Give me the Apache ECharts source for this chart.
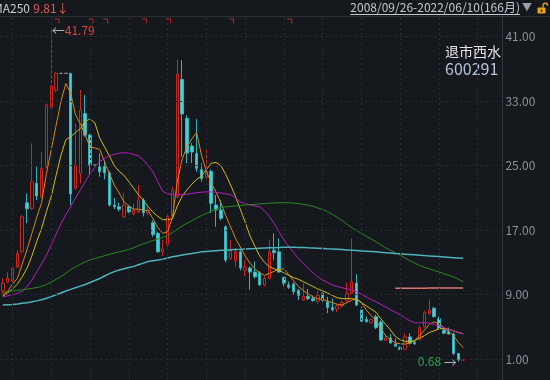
<!DOCTYPE html>
<html><head><meta charset="utf-8">
<script src="https://cdn.jsdelivr.net/npm/echarts@6/dist/echarts.min.js"></script>
<style>html,body{margin:0;padding:0;background:#15181d;}#c{width:550px;height:380px;}</style>
</head><body><div id="c"></div>
<script>
// ---- data (monthly candles, visible window) ----
const months = [
'2014/07','2014/08','2014/09','2014/10','2014/11','2014/12',
'2015/01','2015/02','2015/03','2015/04','2015/05','2015/06','2015/07','2015/08','2015/09','2015/10','2015/11','2015/12',
'2016/01','2016/02','2016/03','2016/04','2016/05','2016/06','2016/07','2016/08','2016/09','2016/10','2016/11','2016/12',
'2017/01','2017/02','2017/03','2017/04','2017/05','2017/06','2017/07','2017/08','2017/09','2017/10','2017/11','2017/12',
'2018/01','2018/02','2018/03','2018/04','2018/05','2018/06','2018/07','2018/08','2018/09','2018/10','2018/11','2018/12',
'2019/01','2019/02','2019/03','2019/04','2019/05','2019/06','2019/07','2019/08','2019/09','2019/10','2019/11','2019/12',
'2020/01','2020/02','2020/03','2020/04','2020/05','2020/06','2020/07','2020/08','2020/09','2020/10','2020/11','2020/12',
'2021/01','2021/02','2021/03','2021/04','2021/05','2021/06','2021/07','2021/08','2021/09','2021/10','2021/11','2021/12',
'2022/01','2022/02','2022/03','2022/04','2022/05','2022/06'];
const padSlots = ['p1','p2','p3','p4','p5','p6','p7','p8'];

const opens = [9.47,10.55,10.70,12.41,14.31,20.39,19.70,22.80,21.14,24.86,
32.23,34.37,36.45,36.45,36.45,22.18,24.00,31.48,28.79,25.07,
24.86,24.90,24.08,20.11,19.90,18.65,19.90,19.00,19.27,20.73,
19.10,17.91,16.60,14.31,15.23,18.73,21.14,35.70,30.86,27.43,
26.50,24.50,23.50,24.30,20.11,19.50,17.41,13.49,13.19,14.31,
12.00,12.30,11.80,11.70,10.20,11.00,14.50,14.30,11.15,10.20,
10.30,9.50,8.30,8.80,8.50,8.20,9.15,8.10,7.40,7.20,
7.60,8.30,9.15,10.45,7.10,5.90,5.50,6.25,5.60,3.30,
3.60,2.85,2.40,2.20,3.75,3.10,3.45,5.00,6.60,7.30,
6.00,4.60,4.40,4.10,1.70,0.86];
const closes = [10.39,11.01,12.25,14.15,18.65,19.65,23.00,21.22,24.66,32.51,
34.87,36.45,36.45,36.45,21.47,25.07,31.89,28.79,25.07,25.07,
24.24,24.10,20.11,19.90,19.60,20.11,19.27,19.50,20.73,19.15,
19.50,16.47,14.31,14.65,18.65,21.97,36.36,31.40,26.56,26.70,
24.66,23.40,24.30,20.32,19.50,18.46,13.28,14.52,14.31,12.30,
12.40,11.80,11.20,10.20,11.00,14.30,14.20,11.80,10.40,9.90,
9.35,8.90,8.80,8.50,8.25,8.90,8.30,7.40,7.10,7.60,
8.00,9.15,10.60,7.70,5.70,5.65,5.90,4.90,3.35,3.55,
3.00,2.60,2.20,3.75,2.95,2.90,4.90,6.75,7.10,6.25,
4.80,4.20,4.10,1.70,0.90,0.90];
const lows = [9.06,10.43,10.55,12.29,14.11,17.87,19.49,20.73,20.94,24.66,
32.10,34.16,36.45,36.45,20.11,21.97,22.80,28.58,23.83,25.07,
23.62,23.30,19.90,19.60,19.30,18.46,19.10,18.85,19.10,18.70,
18.85,16.17,14.19,13.78,14.93,18.65,20.94,26.10,25.32,25.30,
24.24,23.00,23.40,19.11,17.41,18.20,13.00,13.28,12.45,12.00,
11.30,9.60,11.00,10.10,10.00,10.90,13.30,11.70,10.00,9.70,
9.00,8.30,8.20,8.30,8.10,7.90,8.10,6.70,6.90,6.80,
7.40,8.00,9.00,7.56,5.60,5.50,5.40,4.70,3.30,3.25,
2.90,2.50,2.10,2.10,2.80,2.75,3.30,4.90,6.50,6.20,
4.70,4.10,4.00,1.50,0.68,0.84];
const highs = [11.01,11.79,12.45,14.52,18.87,21.56,27.76,24.86,26.72,32.72,
41.79,36.64,36.45,36.45,36.45,30.24,34.40,33.75,29.00,25.07,
26.52,25.60,24.30,21.00,20.40,21.63,20.10,20.30,22.59,20.95,
19.90,18.20,16.80,15.76,19.10,22.40,38.18,38.10,31.27,27.80,
30.78,25.30,27.05,24.50,21.35,20.73,17.60,15.76,14.77,14.60,
13.30,12.50,13.10,11.90,11.30,15.85,16.60,15.97,11.20,10.60,
10.50,9.70,10.40,9.70,8.90,9.45,9.30,8.70,8.50,7.80,
8.30,10.50,15.97,11.55,7.49,6.30,6.00,6.50,5.80,4.00,
4.10,3.55,2.60,4.20,4.20,3.30,5.20,7.00,8.40,7.50,
6.30,4.80,4.90,4.30,1.75,0.93];

const ma5 = [8.9,9.4,10.3,11.0,12.8,14.6,16.6,18.6,20.4,24.0,
27.0,30.0,33.0,35.2,34.0,31.3,30.2,28.8,27.3,27.2,
27.0,25.5,24.0,22.6,21.6,20.5,20.0,19.6,19.6,19.5,
19.4,18.4,17.3,16.6,16.8,18.6,23.0,25.8,27.3,28.3,
29.1,26.3,24.3,22.9,21.7,20.4,18.8,17.4,16.0,14.9,
13.8,12.9,12.2,11.7,11.4,11.6,11.9,12.1,12.2,11.5,
10.7,10.0,9.5,9.1,8.7,8.5,8.4,8.2,8.0,7.8,
7.7,8.0,8.3,8.5,8.0,7.1,6.4,5.8,4.8,3.9,
3.4,3.0,2.9,2.86,3.0,3.3,3.9,4.6,5.3,5.6,
5.4,4.9,4.4,3.9,3.1,2.4];
const ma10 = [8.8,9.2,9.7,10.3,11.2,12.3,13.8,15.6,17.2,19.3,
21.2,23.8,26.3,28.2,28.6,29.1,29.6,30.5,30.8,30.3,
28.4,27.3,26.2,25.0,24.3,23.8,23.0,22.2,21.4,20.7,
19.9,19.2,18.7,18.3,18.3,18.4,20.0,21.2,22.0,22.7,
23.3,23.7,24.5,25.3,25.4,25.0,23.9,22.6,21.2,19.6,
18.0,16.3,15.0,13.8,13.0,12.45,12.2,12.0,11.7,11.4,
11.1,10.9,10.6,10.3,10.0,9.7,9.45,9.2,8.9,8.6,
8.5,8.5,8.5,8.4,8.0,7.6,7.2,6.8,6.0,5.3,
4.6,3.8,3.4,3.2,3.15,3.3,3.6,3.9,4.3,4.5,
4.75,4.8,4.7,4.5,4.3,4.15];
const ma20 = [8.70,8.85,9.0,9.15,9.40,10.0,10.8,11.8,12.8,13.9,
15.2,16.5,17.8,18.9,19.9,21.0,22.0,23.0,24.0,24.8,
25.5,25.9,26.2,26.4,26.55,26.6,26.55,26.4,26.2,25.7,
25.0,24.2,23.0,21.8,21.5,21.4,21.4,21.4,21.45,21.55,
21.65,21.7,21.75,21.75,21.7,21.6,21.5,21.4,21.0,20.5,
20.3,20.15,20.0,19.9,19.4,18.7,17.8,16.8,15.8,15.0,
14.2,13.5,12.9,12.3,11.7,11.2,10.8,10.5,10.2,10.0,
9.85,9.7,9.6,9.35,9.05,8.7,8.4,8.1,7.8,7.45,
7.1,6.8,6.5,6.1,5.75,5.5,5.5,5.5,5.5,5.3,
5.1,4.9,4.7,4.5,4.3,4.1];
const ma60 = [9.30,9.37,9.45,9.52,9.60,9.68,9.77,9.88,10.00,10.25,
10.55,10.9,11.2,11.65,12.1,12.45,12.75,13.05,13.3,13.48,
13.65,13.82,14.0,14.15,14.3,14.45,14.6,14.8,15.05,15.3,
15.5,15.7,15.9,16.1,16.3,16.7,17.1,17.5,17.85,18.15,
18.5,18.8,19.1,19.35,19.6,19.8,19.88,19.95,20.0,20.05,
20.1,20.15,20.2,20.25,20.3,20.35,20.38,20.4,20.4,20.4,
20.35,20.28,20.2,20.1,19.95,19.75,19.55,19.3,18.95,18.6,
18.2,17.75,17.3,16.95,16.6,16.25,15.9,15.55,15.18,14.8,
14.5,14.2,13.9,13.55,13.2,12.9,12.6,12.4,12.2,12.0,
11.8,11.6,11.4,11.2,10.9,10.6];
const ma120 = [7.70,7.74,7.78,7.84,7.92,8.00,8.10,8.22,8.36,8.55,
8.75,8.98,9.20,9.45,9.65,9.85,10.05,10.25,10.5,10.75,
11.0,11.3,11.6,11.85,12.05,12.2,12.35,12.5,12.7,12.9,
13.1,13.2,13.3,13.4,13.55,13.7,13.8,13.9,14.0,14.1,
14.2,14.3,14.35,14.4,14.45,14.5,14.5,14.55,14.6,14.62,
14.65,14.7,14.72,14.75,14.78,14.8,14.82,14.85,14.86,14.86,
14.86,14.85,14.83,14.8,14.78,14.75,14.72,14.68,14.65,14.62,
14.58,14.54,14.5,14.46,14.42,14.38,14.34,14.3,14.25,14.2,
14.15,14.1,14.06,14.02,13.98,13.94,13.89,13.84,13.8,13.76,
13.72,13.67,13.62,13.58,13.54,13.5];
const ma250Visible = [9.79,9.79,9.80,9.80,9.80,9.80,9.80,9.81,9.81,9.81,9.81,9.81,9.81,9.81,9.81];
const ma250 = Array(81).fill(null).concat(ma250Visible);

const yTickLabels = [1, 9, 17, 25, 33, 41];
const gridColIdx = [2, 10, 18, 26, 34, 42, 50, 58, 66, 74, 82, 90, 98];
const eventIdx = [11, 18, 21, 29, 34, 47, 59];
const highPoint = {idx: 10, value: 41.79};
const lowPoint = {idx: 94, value: 0.68};
const headerMA = 'MA250', headerMAValue = '9.81';
const rangeText = '2008/09/26-2022/06/10(166月)';
const stockName = '退市西水', stockCode = '600291';

// ---- chart ----
const BG = '#15181d';
const FONT = '"Noto Sans CJK SC","Noto Sans",sans-serif';
const GRID_LINE = {color: '#2a2d34', type: [2, 3], width: 1};
const chart = echarts.init(document.getElementById('c'), null, {renderer: 'canvas'});
const candles = opens.map((o, i) => [o, closes[i], lows[i], highs[i]]);
const cats = months.concat(padSlots);
const Y_MIN = -1.6, Y_MAX = 43.57;
const EVENT_LEVEL = 42.95;

const mc = document.createElement('canvas').getContext('2d');
mc.font = '12px ' + FONT;
const rangeW = mc.measureText(rangeText).width;
const rangeRight = 520;

function ma(name, data, color, w) {
  return {type: 'line', name, data, xAxisIndex: 0, yAxisIndex: 0, showSymbol: false, symbol: 'none',
    lineStyle: {color, width: w || 1}, itemStyle: {color}, silent: true, z: 3};
}

chart.setOption({
  backgroundColor: BG,
  animation: false,
  textStyle: {fontFamily: FONT},
  grid: {left: 0.4, right: 45.6, top: 16, bottom: 0},
  xAxis: {type: 'category', data: cats, boundaryGap: true, axisLine: {show: false}, axisTick: {show: false},
     axisLabel: {show: false}, splitLine: {show: false}},
  yAxis: {type: 'value', min: Y_MIN, max: Y_MAX, position: 'right', offset: -2, scale: true,
     axisLine: {show: true, lineStyle: {color: '#33363d', width: 1}},
     axisTick: {show: false, customValues: yTickLabels},
     axisLabel: {color: '#8b9098', fontSize: 12, margin: 3, fontFamily: FONT, customValues: yTickLabels,
       formatter: v => Number(v).toFixed(2)},
     splitLine: {show: false}},
  series: [
    {type: 'line', data: [], z: 1, silent: true,
     markLine: {silent: true, symbol: ['none', 'none'], label: {show: false}, lineStyle: GRID_LINE, animation: false,
       emphasis: {disabled: true},
       data: yTickLabels.map(v => ({yAxis: v})).concat(gridColIdx.map(i => ({xAxis: cats[i]})))}},
    {type: 'candlestick', data: candles, barWidth: 3, z: 2,
     itemStyle: {color: '#1b1214', borderColor: '#cc241e', color0: '#44d2d9', borderColor0: '#36b3b9',
       borderColorDoji: '#8f949c', borderWidth: 1},
     markPoint: {symbol: 'circle', symbolSize: 1, itemStyle: {color: 'transparent'}, silent: true,
       data: [
         {coord: [months[highPoint.idx], highPoint.value], value: highPoint.value,
          label: {show: true, position: 'right', distance: 0, formatter: '{a|←}{b|' + highPoint.value.toFixed(2) + '}',
            rich: {a: {color: '#a9adb4', fontSize: 13, fontFamily: FONT}, b: {color: '#e0443c', fontSize: 12, fontFamily: FONT}}}},
         {coord: [months[lowPoint.idx], lowPoint.value], value: lowPoint.value,
          label: {show: true, position: 'left', distance: 1, formatter: '{b|' + lowPoint.value.toFixed(2) + '} {a|→}',
            rich: {a: {color: '#a9adb4', fontSize: 13, fontFamily: FONT}, b: {color: '#2aa84c', fontSize: 12, fontFamily: FONT}}}}
       ]}},
    ma('MA5', ma5, '#d9861a'),
    ma('MA10', ma10, '#cdbd1e'),
    ma('MA20', ma20, '#b41fb8'),
    ma('MA60', ma60, '#2a8a20'),
    ma('MA120', ma120, '#4fb2bb', 1.5),
    ma('MA250', ma250, '#d6786f', 1.5),
    {type: 'scatter', data: eventIdx.map(i => [months[i], EVENT_LEVEL]),
     symbol: 'path://M0,0H10V10H8V2H0Z', symbolSize: [5, 5], symbolOffset: [1, 0],
     itemStyle: {color: '#e02b25'}, silent: true, z: 5}
  ],
  graphic: [
    {type: 'line', shape: {x1: 0, y1: 16.5, x2: 550, y2: 16.5}, style: {stroke: '#2c2f36', lineWidth: 1}, silent: true},
    {type: 'text', x: -7, y: 8, style: {text: '{w|' + headerMA + '} {r|' + headerMAValue + '↓}', verticalAlign: 'middle',
      rich: {w: {fill: '#c9ccd2', fontSize: 12, fontFamily: FONT}, r: {fill: '#df5a52', fontSize: 12, fontFamily: FONT}}}, silent: true},
    {type: 'text', x: rangeRight, y: 7.5, style: {text: rangeText, fill: '#c4c7cd', fontSize: 12, fontFamily: FONT,
      align: 'right', verticalAlign: 'middle'}, silent: true},
    {type: 'line', shape: {x1: rangeRight - rangeW, y1: 14.5, x2: rangeRight, y2: 14.5}, style: {stroke: '#c4c7cd', lineWidth: 1}, silent: true},
    {type: 'text', x: 522, y: 7.5, style: {text: '▼', fill: '#9ba0a8', fontSize: 10, fontFamily: FONT, verticalAlign: 'middle'}, silent: true},
    {type: 'rect', shape: {x: 537.5, y: 7.5, width: 8, height: 6, r: 1}, style: {fill: '#e3a51a'}, silent: true},
    {type: 'rect', shape: {x: 540.8, y: 9.5, width: 1.5, height: 2.5}, style: {fill: '#3a2a08'}, silent: true},
    {type: 'arc', shape: {cx: 545.3, cy: 5.5, r: 2.3, startAngle: Math.PI, endAngle: 2 * Math.PI, clockwise: true},
     style: {stroke: '#e3a51a', fill: null, lineWidth: 1.4}, silent: true},
    {type: 'line', shape: {x1: 543, y1: 5.5, x2: 543, y2: 7.5}, style: {stroke: '#e3a51a', lineWidth: 1.4}, silent: true},
    {type: 'text', x: 445, y: 52, style: {text: stockName, fill: '#e4e6ea', fontSize: 14, fontFamily: '"Noto Sans CJK SC"', verticalAlign: 'middle'}, silent: true},
    {type: 'text', x: 445, y: 69, style: {text: stockCode, fill: '#b7c4dc', fontSize: 16, fontFamily: '"Noto Sans CJK SC"', verticalAlign: 'middle'}, silent: true}
  ]
});
</script>
</body></html>
